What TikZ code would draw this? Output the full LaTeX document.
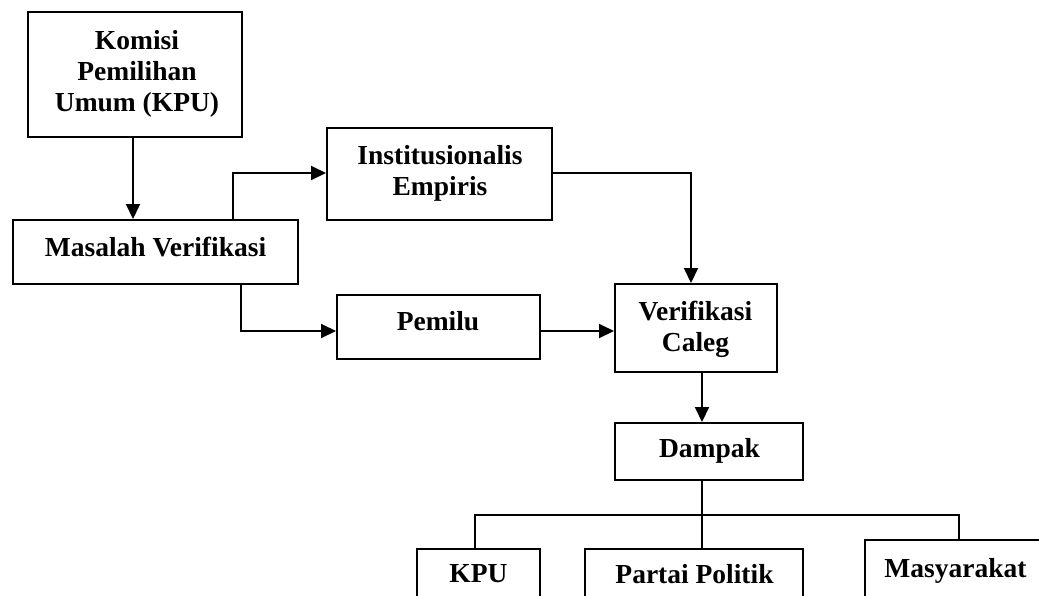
\documentclass[tikz,border=0pt]{standalone}
\usepackage{fontspec}
\setmainfont{Liberation Serif}
\usetikzlibrary{arrows.meta}
\begin{document}
\begin{tikzpicture}[x=1pt,y=-1pt,
  box/.style={draw,line width=2pt,rectangle,inner sep=0pt},
  txt/.style={font=\fontsize{27.5}{31}\selectfont\bfseries,align=center,inner sep=0pt},
  ln/.style={line width=2pt},
  arr/.style={line width=2pt,-{Triangle[length=15pt,width=14pt]}}]
\useasboundingbox (0,0) rectangle (1039,595);
\clip (0,0) rectangle (1039,595);
% boxes
\node[box,minimum width=214pt,minimum height=125pt] (kpu) at (135,74.5) {};
\node[box,minimum width=285pt,minimum height=64pt] (mv) at (155.5,252) {};
\node[box,minimum width=225pt,minimum height=92pt] (inst) at (439.5,174) {};
\node[box,minimum width=203pt,minimum height=64pt] (pemilu) at (438.5,327) {};
\node[box,minimum width=162pt,minimum height=88pt] (vc) at (696,328) {};
\node[box,minimum width=188pt,minimum height=57pt] (dampak) at (709,451.5) {};
\node[box,minimum width=123pt,minimum height=80pt] (kpub) at (478.5,589) {};
\node[box,minimum width=218pt,minimum height=80pt] (partai) at (694,589) {};
\node[box,minimum width=181pt,minimum height=90pt] (masy) at (955.5,585) {};
% texts
\node[txt] (t-kpu) at (137,73.5) {Komisi\\Pemilihan\\Umum (KPU)};
\node[txt] (t-mv) at (155.5,247) {Masalah Verifikasi};
\node[txt] (t-inst) at (440,173) {Institusionalis\\Empiris};
\node[txt] (t-pemilu) at (438,321) {Pemilu};
\node[txt] (t-vc) at (695.5,329) {Verifikasi\\Caleg};
\node[txt] (t-dampak) at (709.5,451) {Dampak};
\node[txt] (t-kpub) at (478.5,574) {KPU};
\node[txt] (t-partai) at (694.5,574) {Partai Politik};
\node[txt] (t-masy) at (955.5,571) {Masyarakat};
% connectors
\draw[arr] ([xshift=-2pt]kpu.south) -- ([xshift=-2pt]kpu.south |- mv.north);
\draw[arr] ([xshift=77pt]mv.north) |- ([yshift=1pt]inst.west);
\draw[arr] ([yshift=1pt]inst.east) -| ([xshift=-5pt]vc.north);
\draw[arr] ([xshift=85.5pt]mv.south) |- ([yshift=-4pt]pemilu.west);
\draw[arr] ([yshift=-4pt]pemilu.east) -- ([yshift=-4pt]pemilu.east -| vc.west);
\draw[arr] ([xshift=6pt]vc.south) -- ([xshift=6pt]vc.south |- dampak.north);
\coordinate (br) at (702,515);
\draw[ln] ([xshift=-7pt]dampak.south) -- ([xshift=-7pt]dampak.south |- partai.north);
\draw[ln] ([xshift=-3.5pt]kpub.north) |- (br) -| ([xshift=3.5pt]masy.north);
\end{tikzpicture}
\end{document}
